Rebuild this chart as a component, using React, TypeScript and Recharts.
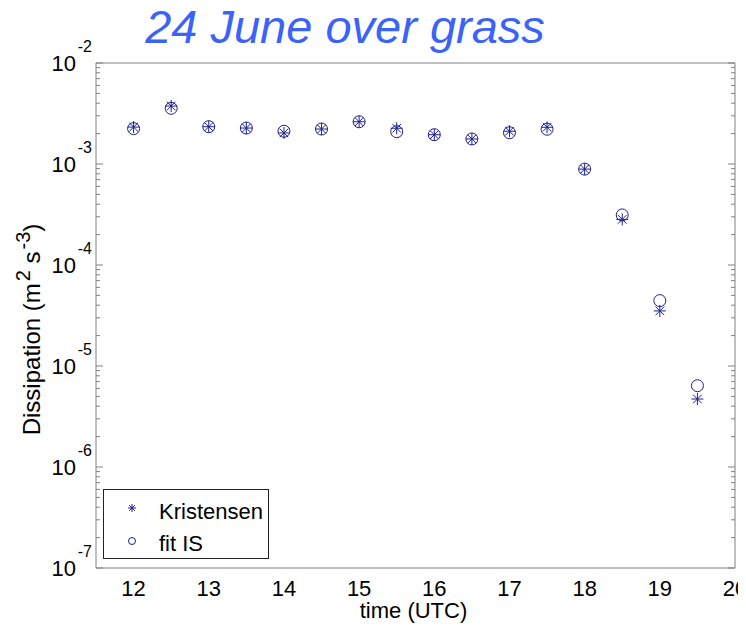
import React from "react";
import { ScatterChart, Scatter, XAxis, YAxis, Legend } from "recharts";

const FONT = "'Liberation Sans', Arial, sans-serif";
const AXIS = "#808080";
const MARK = "#1f1f8f";

// time of day (UTC), every half hour
const TIMES = [12, 12.5, 13, 13.5, 14, 14.5, 15, 15.5, 16, 16.5, 17, 17.5, 18, 18.5, 19, 19.5];
// dissipation (m2 s-3)
const KRISTENSEN = [
  2.32e-3, 3.75e-3, 2.34e-3, 2.27e-3, 2.03e-3, 2.22e-3, 2.62e-3, 2.26e-3,
  1.95e-3, 1.77e-3, 2.11e-3, 2.31e-3, 8.9e-4, 2.83e-4, 3.51e-5, 4.71e-6,
];
const FIT_IS = [
  2.24e-3, 3.56e-3, 2.34e-3, 2.27e-3, 2.11e-3, 2.22e-3, 2.62e-3, 2.09e-3,
  1.95e-3, 1.77e-3, 2.04e-3, 2.21e-3, 8.9e-4, 3.13e-4, 4.44e-5, 6.38e-6,
];

const X_TICKS = [12, 13, 14, 15, 16, 17, 18, 19, 20];
const Y_TICKS = [1e-7, 1e-6, 1e-5, 1e-4, 1e-3, 1e-2];
const Y_MINOR = Y_TICKS.slice(0, -1).flatMap((d) =>
  [2, 3, 4, 5, 6, 7, 8, 9].map((m) => m * d)
);
const Y_ALL = [...Y_TICKS, ...Y_MINOR].sort((a, b) => a - b);

const kData = TIMES.map((t, i) => ({ t, v: KRISTENSEN[i] }));
const fitData = TIMES.map((t, i) => ({ t, v: FIT_IS[i] }));

function Star({ cx, cy, r = 6 }: any) {
  const d = r * 0.72;
  return (
    <g stroke={MARK} strokeWidth={1}>
      <line x1={cx - r} y1={cy} x2={cx + r} y2={cy} />
      <line x1={cx} y1={cy - r} x2={cx} y2={cy + r} />
      <line x1={cx - d} y1={cy - d} x2={cx + d} y2={cy + d} />
      <line x1={cx - d} y1={cy + d} x2={cx + d} y2={cy - d} />
    </g>
  );
}

function Ring({ cx, cy, r = 6 }: any) {
  return <circle cx={cx} cy={cy} r={r} fill="none" stroke={MARK} strokeWidth={1} />;
}

const NoTick = () => <g />;

// inward tick marks for the log axes: long at decades, short between
const inTick = (dir: number) => (props: any) => {
  const { x, y, payload } = props;
  const lg = Math.log10(payload.value);
  const major = Math.abs(lg - Math.round(lg)) < 1e-6;
  const len = major ? 7 : 4;
  return <line x1={x} y1={y} x2={x + dir * len} y2={y} stroke={AXIS} />;
};
const LeftTick = inTick(1);
const RightTick = inTick(-1);

function PowerTick({ x, y, payload }: any) {
  const exp = Math.round(Math.log10(payload.value));
  return (
    <g fontFamily={FONT} fill="#000">
      <text x={x - 16} y={y + 8} textAnchor="end" fontSize={22}>
        10
      </text>
      <text x={x} y={y - 11} textAnchor="end" fontSize={16}>
        {exp}
      </text>
    </g>
  );
}

function YLabel({ viewBox }: any) {
  const bx = viewBox.x + 24;
  const cy = viewBox.y + viewBox.height / 2 + 14;
  return (
    <text
      x={bx}
      y={cy}
      transform={`rotate(-90 ${bx} ${cy})`}
      textAnchor="middle"
      fontFamily={FONT}
      fontSize={24}
      fill="#000"
    >
      Dissipation (m
      <tspan dy={-10} fontSize={20} dx={2}>2</tspan>
      <tspan dy={10}> s</tspan>
      <tspan dy={-10} fontSize={20} dx={2}>-3</tspan>
      <tspan dy={10}>)</tspan>
    </text>
  );
}

function XLabel({ viewBox }: any) {
  return (
    <text
      x={viewBox.x + viewBox.width / 2 - 2}
      y={viewBox.y + viewBox.height}
      textAnchor="middle"
      fontFamily={FONT}
      fontSize={22}
      fill="#000"
    >
      time (UTC)
    </text>
  );
}

function LegendBox({ payload }: any) {
  const items = payload || [];
  return (
    <svg width={166} height={70} style={{ display: "block" }}>
      <rect x={0.5} y={0.5} width={165} height={69} fill="#fff" stroke="#222" />
      {items.map((entry: any, i: number) => {
        const my = i === 0 ? 19 : 52;
        const ty = i === 0 ? 30 : 62;
        return (
          <g key={entry.value}>
            {entry.value === "Kristensen" ? (
              <Star cx={29} cy={my} r={4} />
            ) : (
              <Ring cx={29} cy={my} r={3.5} />
            )}
            <text x={56} y={ty} fontFamily={FONT} fontSize={22} fill="#000">
              {entry.value}
            </text>
          </g>
        );
      })}
    </svg>
  );
}

export default function App() {
  return (
    <div style={{ position: "relative", width: 738, height: 619 }}>
      <style>{`html, body { overflow: hidden; }`}</style>
      <ScatterChart
        width={738}
        height={619}
        margin={{ top: 55, right: 11, bottom: 9, left: 8 }}
      >
        <XAxis
          xAxisId="x"
          type="number"
          dataKey="t"
          domain={[11.5, 20]}
          allowDataOverflow
          ticks={X_TICKS}
          interval={0}
          height={50}
          tickLine={false}
          tickSize={0}
          tickMargin={12}
          axisLine={{ stroke: AXIS }}
          tick={{ fontSize: 22, fill: "#000", fontFamily: FONT }}
          label={XLabel}
        />
        <XAxis
          xAxisId="xb"
          type="number"
          domain={[11.5, 20]}
          allowDataOverflow
          ticks={X_TICKS}
          interval={0}
          orientation="bottom"
          mirror
          height={1}
          tickSize={8}
          tickLine={{ stroke: AXIS }}
          axisLine={false}
          tick={NoTick}
        />
        <XAxis
          xAxisId="xt"
          type="number"
          domain={[11.5, 20]}
          allowDataOverflow
          ticks={X_TICKS}
          interval={0}
          orientation="top"
          mirror
          height={1}
          tickSize={8}
          tickLine={{ stroke: AXIS }}
          axisLine={{ stroke: AXIS }}
          tick={NoTick}
        />
        <YAxis
          yAxisId="y"
          type="number"
          dataKey="v"
          scale="log"
          domain={[1e-7, 1e-2]}
          allowDataOverflow
          ticks={Y_TICKS}
          interval={0}
          width={80}
          tickLine={false}
          tickSize={0}
          tickMargin={4}
          axisLine={{ stroke: AXIS }}
          tick={PowerTick}
          label={YLabel}
        />
        <YAxis
          yAxisId="yl"
          type="number"
          scale="log"
          domain={[1e-7, 1e-2]}
          allowDataOverflow
          ticks={Y_ALL}
          interval={0}
          mirror
          width={1}
          tickSize={0}
          tickMargin={0}
          tickLine={false}
          axisLine={false}
          tick={LeftTick}
        />
        <YAxis
          yAxisId="yr"
          type="number"
          scale="log"
          domain={[1e-7, 1e-2]}
          allowDataOverflow
          ticks={Y_ALL}
          interval={0}
          orientation="right"
          mirror
          width={1}
          tickSize={0}
          tickMargin={0}
          tickLine={false}
          axisLine={{ stroke: AXIS }}
          tick={RightTick}
        />
        <Legend
          layout="vertical"
          align="center"
          verticalAlign="middle"
          content={LegendBox}
          wrapperStyle={{ left: 95, top: 481, width: 166, height: 70 }}
        />
        <Scatter
          name="Kristensen"
          data={kData}
          xAxisId="x"
          yAxisId="y"
          fill={MARK}
          shape={Star}
          isAnimationActive={false}
        />
        <Scatter
          name="fit IS"
          data={fitData}
          xAxisId="x"
          yAxisId="y"
          fill={MARK}
          shape={Ring}
          isAnimationActive={false}
        />
      </ScatterChart>
      <svg
        width={738}
        height={60}
        style={{ position: "absolute", left: 0, top: -8, pointerEvents: "none" }}
      >
        <text
          x={337}
          y={43}
          textAnchor="middle"
          fontFamily={FONT}
          fontStyle="italic"
          fontSize={47}
          fill="#3b63f7"
        >
          24 June over grass
        </text>
      </svg>
    </div>
  );
}
